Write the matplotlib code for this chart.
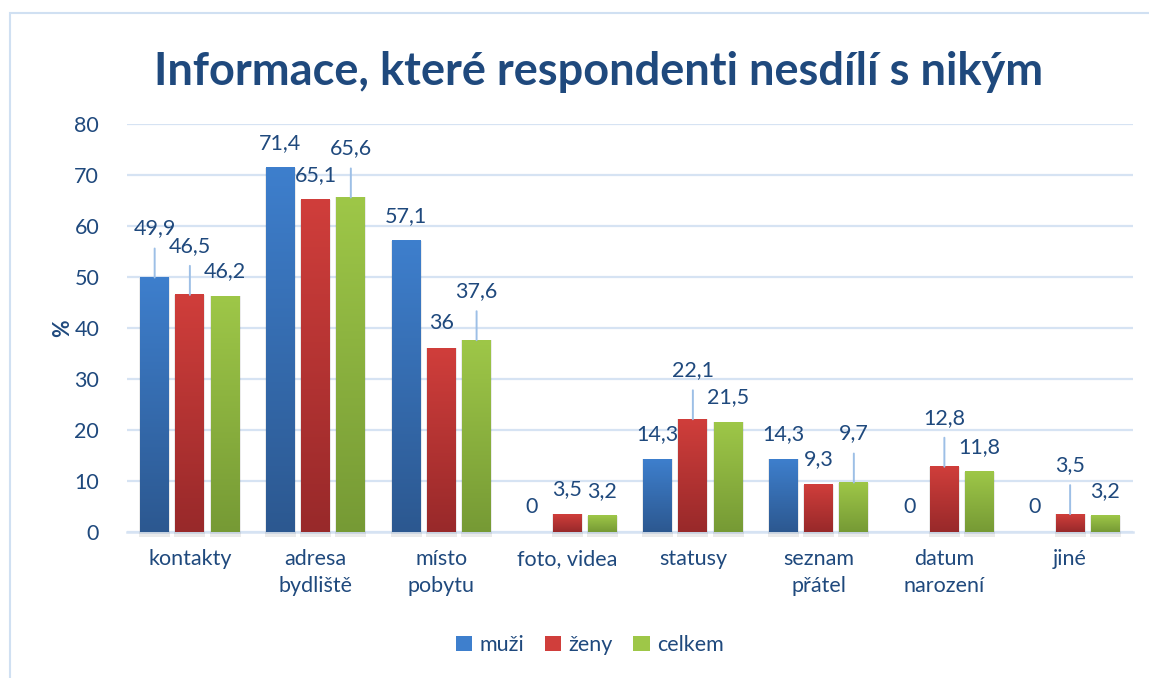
import matplotlib
matplotlib.use("Agg")
import matplotlib.pyplot as plt
import numpy as np
from matplotlib.colors import LinearSegmentedColormap
from matplotlib.patches import Rectangle, Patch

plt.rcParams['font.family'] = ['Lato', 'DejaVu Sans']

categories = ["kontakty", "adresa\nbydliště", "místo\npobytu", "foto, videa",
              "statusy", "seznam\npřátel", "datum\nnarození", "jiné"]
muzi = [49.9, 71.4, 57.1, 0, 14.3, 14.3, 0, 0]
zeny = [46.5, 65.1, 36, 3.5, 22.1, 9.3, 12.8, 3.5]
celkem = [46.2, 65.6, 37.6, 3.2, 21.5, 9.7, 11.8, 3.2]
series_names = ["muži", "ženy", "celkem"]
title = "Informace, které respondenti nesdílí s nikým"
yticks = [0, 10, 20, 30, 40, 50, 60, 70, 80]

# label with leader line (raised) flags: style only
raised = {
    0: [True, False, False, False, False, False, False, False],
    1: [True, False, False, False, True, False, True, True],
    2: [False, True, True, False, False, True, False, False],
}

TEXT = "#1F497D"
GRID = "#D6E3F3"
LEADER = "#9DBFE6"
grads = [("#3E7FCD", "#2C5890"), ("#D03E3B", "#98292A"), ("#9EC748", "#769A35")]
FS = 15.5

W, H = 1149, 678
fig = plt.figure(figsize=(W / 100, H / 100), dpi=100)
ax = fig.add_axes([127 / W, 146 / H, (1133 - 127) / W, (532 - 124) / H])

# border (left & top visible)
fig.patches.append(Rectangle((9.5 / W, -0.1), 1.2, (H - 12.5) / H + 0.1,
                             transform=fig.transFigure, fill=False,
                             edgecolor="#D0E0F2", linewidth=1.5))

x = np.arange(len(categories))
bw = 0.23
offs = [-0.28, 0.0, 0.28]
ax.set_xlim(-0.5, len(categories) - 0.5)
ax.set_ylim(0, 80)

for si, vals in enumerate([muzi, zeny, celkem]):
    cmap = LinearSegmentedColormap.from_list("g", [grads[si][1], grads[si][0]])
    grad = np.linspace(0, 1, 256).reshape(-1, 1)
    for ci, v in enumerate(vals):
        xc = x[ci] + offs[si]
        if v > 0:
            # shadow
            ax.add_patch(Rectangle((xc - bw / 2 - 0.008, -0.9), bw + 0.016, v + 0.9,
                                   facecolor="#000000", alpha=0.08, edgecolor="none", zorder=2,
                                   clip_on=False))
            ax.imshow(grad, extent=[xc - bw / 2, xc + bw / 2, 0, v], origin="lower",
                      aspect="auto", cmap=cmap, zorder=3, interpolation="bilinear")
        # label
        lab = f"{v:g}".replace(".", ",")
        if raised[si][ci]:
            dy = 49
            ax.annotate(lab, xy=(xc, v), xytext=(0, dy * 0.72), textcoords="offset points",
                        ha="center", va="center", fontsize=FS, color=TEXT, zorder=5)
            ax.annotate("", xy=(xc, v), xytext=(0, (dy - 20) * 0.72), textcoords="offset points",
                        arrowprops=dict(arrowstyle="-", color=LEADER, lw=1.4,
                                        shrinkA=0, shrinkB=0), zorder=4)
        else:
            ax.annotate(lab, xy=(xc, v), xytext=(0, 25 * 0.72), textcoords="offset points",
                        ha="center", va="center", fontsize=FS, color=TEXT, zorder=5)

ax.set_xlim(-0.5, len(categories) - 0.5)
ax.set_ylim(0, 80)
ax.set_yticks(yticks)
ax.set_yticklabels([str(t) for t in yticks])
ax.set_xticks(x)
ax.set_xticklabels(categories, linespacing=1.45)
ax.tick_params(axis="both", length=0, labelsize=FS, colors=TEXT)
ax.tick_params(axis="y", pad=20)
ax.tick_params(axis="x", pad=12)
for lbl in ax.get_xticklabels():
    lbl.set_verticalalignment("top")
ax.grid(axis="y", color=GRID, linewidth=1.6, zorder=0)
ax.set_axisbelow(True)
for s in ["top", "right", "left"]:
    ax.spines[s].set_visible(False)
ax.spines["bottom"].set_color(GRID)
ax.spines["bottom"].set_linewidth(1.8)
ax.spines["bottom"].set_zorder(1)

ax.set_ylabel("%", fontsize=FS, fontweight="bold", color=TEXT, labelpad=1)

fig.text(0.5 * (157 + 1040) / W, 1 - 72 / H, title, ha="center", va="center",
         fontsize=32.5, fontweight="bold", color=TEXT)

handles = [Patch(facecolor=grads[i][0], edgecolor="none") for i in range(3)]
fig.legend(handles, series_names, loc="center", bbox_to_anchor=(590 / W, 1 - 645 / H),
           ncol=3, frameon=False, fontsize=FS, labelcolor=TEXT, handlelength=0.75,
           handleheight=0.75, handletextpad=0.35, columnspacing=0.95)

fig.savefig("out.png", dpi=100)
